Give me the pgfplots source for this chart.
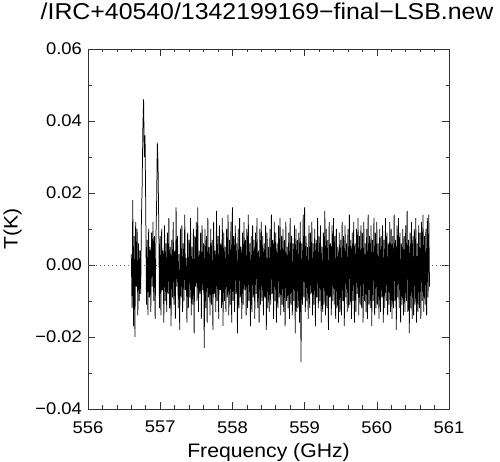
\documentclass[border=0pt]{standalone}
\usepackage{pgfplots}
\pgfplotsset{compat=1.18}
\usepackage{fontspec}
\setmainfont[FakeStretch=1.085]{Liberation Sans}
\begin{document}
\begin{tikzpicture}[x=1bp,y=1bp]
\useasboundingbox (0,0) rectangle (500,462);
\begin{axis}[
 at={(88bp,53bp)}, anchor=south west,
 scale only axis, width=361bp, height=360bp,
 xmin=556, xmax=561, ymin=-0.04, ymax=0.06,
 scaled y ticks=false, scaled x ticks=false,
 xtick={556,557,558,559,560,561}, minor x tick num=4,
 xticklabels={556,557,558,559,560,561},
 ytick={-0.04,-0.02,0,0.02,0.04,0.06}, minor y tick num=1,
 yticklabels={−0.04,−0.02,0.00,0.02,0.04,0.06},
 tick align=inside, major tick length=7bp, minor tick length=3.5bp,
 axis line style={line width=0.8bp, black!80},
 every tick/.style={black!80, line width=0.6bp},
 xticklabel style={font=\fontsize{17}{19}\selectfont, anchor=north, inner sep=0pt, yshift=-12bp},
 yticklabel style={font=\fontsize{17}{19}\selectfont, anchor=east, inner sep=0pt, xshift=-6bp},
 xlabel={Frequency (GHz)}, ylabel={T(K)},
 every axis x label/.style={at={(axis description cs:0.5,-0.135)}, anchor=base, inner sep=0pt, font=\fontsize{19.6}{22}\selectfont},
 every axis y label/.style={at={(axis description cs:-0.195,0.5)}, anchor=base, rotate=90, inner sep=0pt, font=\fontsize{19.6}{22}\selectfont},
 title={/IRC+40540/1342199169−final−LSB.new},
 every axis title/.style={at={(axis description cs:0.496,1.0825)}, anchor=base, inner sep=0pt, font=\fontsize{23}{26}\selectfont},
]
\addplot[black!60, line width=0.5bp, dash pattern=on 1.2bp off 2.8bp] coordinates {(556,0)(561,0)};
\addplot[black, line width=0.75bp] coordinates {
(556.60,0.003)(556.61,-0.012)(556.62,0.018)(556.63,-0.017)(556.64,0.008)(556.65,-0.020)(556.66,0.012)(556.67,-0.006)(556.68,0.010)(556.69,-0.014)
(556.70,0.006)(556.71,-0.010)(556.72,0.004)(556.73,-0.008)(556.74,0.013)(556.75,0.022)(556.76,0.038)(556.77,0.046)(556.78,0.030)(556.79,0.036)
(556.80,0.015)(556.81,-0.011)(556.82,0.007)(556.83,-0.014)(556.84,0.010)(556.85,-0.009)(556.86,0.005)(556.87,-0.013)(556.88,0.009)(556.89,-0.006)
(556.90,0.012)(556.91,-0.010)(556.92,0.008)(556.93,-0.015)(556.94,0.006)(556.95,0.017)(556.96,0.034)(556.97,0.028)(556.98,0.011)(556.99,-0.012)
(557.00,0.008)(557.01,-0.014)(557.02,0.010)(557.03,-0.007)(557.04,0.004)(557.05,-0.016)(557.06,0.011)(557.07,-0.010)(557.08,0.006)(557.09,-0.013)
(557.10,0.009)(557.11,-0.008)(557.12,0.013)(557.13,-0.012)(557.14,0.005)(557.15,-0.017)(557.16,0.007)(557.17,-0.009)(557.18,0.012)(557.19,-0.011)
(557.20,0.004)(557.21,-0.015)(557.22,0.016)(557.23,-0.006)(557.24,0.008)(557.25,-0.012)(557.26,0.003)(557.27,-0.018)(557.28,0.010)(557.29,-0.009)
(557.30,0.011)(557.31,-0.013)(557.32,0.006)(557.33,-0.010)(557.34,0.014)(557.35,-0.007)(557.36,0.002)(557.37,-0.016)(557.38,0.009)(557.39,-0.012)
(557.40,0.007)(557.41,-0.009)(557.42,0.013)(557.43,-0.014)(557.44,0.005)(557.45,-0.011)(557.46,0.010)(557.47,-0.019)(557.48,0.008)(557.49,-0.006)
(557.50,0.012)(557.51,-0.010)(557.52,0.016)(557.53,-0.013)(557.54,0.004)(557.55,-0.008)(557.56,0.009)(557.57,-0.015)(557.58,0.011)(557.59,-0.007)
(557.60,0.006)(557.61,-0.023)(557.62,0.010)(557.63,-0.012)(557.64,0.008)(557.65,-0.016)(557.66,0.013)(557.67,-0.009)(557.68,0.005)(557.69,-0.014)
(557.70,0.010)(557.71,-0.011)(557.72,0.007)(557.73,-0.018)(557.74,0.012)(557.75,-0.008)(557.76,0.004)(557.77,-0.013)(557.78,0.015)(557.79,-0.010)
(557.80,0.008)(557.81,-0.015)(557.82,0.011)(557.83,-0.007)(557.84,0.006)(557.85,-0.012)(557.86,0.013)(557.87,-0.017)(557.88,0.009)(557.89,-0.010)
(557.90,0.005)(557.91,-0.013)(557.92,0.010)(557.93,-0.009)(557.94,0.014)(557.95,-0.014)(557.96,0.007)(557.97,-0.011)(557.98,0.012)(557.99,-0.016)
(558.00,0.016)(558.01,-0.010)(558.02,0.008)(558.03,-0.013)(558.04,0.011)(558.05,-0.008)(558.06,0.006)(558.07,-0.019)(558.08,0.010)(558.09,-0.012)
(558.10,0.013)(558.11,-0.009)(558.12,0.005)(558.13,-0.015)(558.14,0.009)(558.15,-0.011)(558.16,0.012)(558.17,-0.007)(558.18,0.007)(558.19,-0.014)
(558.20,0.010)(558.21,-0.012)(558.22,0.014)(558.23,-0.010)(558.24,0.006)(558.25,-0.017)(558.26,0.008)(558.27,-0.013)(558.28,0.011)(558.29,-0.009)
(558.30,0.007)(558.31,-0.015)(558.32,0.009)(558.33,-0.008)(558.34,0.013)(558.35,-0.012)(558.36,0.004)(558.37,-0.016)(558.38,0.010)(558.39,-0.011)
(558.40,0.012)(558.41,-0.010)(558.42,0.008)(558.43,-0.014)(558.44,0.006)(558.45,-0.009)(558.46,0.011)(558.47,-0.018)(558.48,0.009)(558.49,-0.012)
(558.50,0.005)(558.51,-0.013)(558.52,0.010)(558.53,-0.011)(558.54,0.014)(558.55,-0.008)(558.56,0.007)(558.57,-0.015)(558.58,0.012)(558.59,-0.010)
(558.60,0.009)(558.61,-0.016)(558.62,0.006)(558.63,-0.012)(558.64,0.011)(558.65,-0.009)(558.66,0.013)(558.67,-0.014)(558.68,0.008)(558.69,-0.011)
(558.70,0.010)(558.71,-0.013)(558.72,0.007)(558.73,-0.017)(558.74,0.012)(558.75,-0.010)(558.76,0.005)(558.77,-0.012)(558.78,0.009)(558.79,-0.015)
(558.80,0.013)(558.81,-0.011)(558.82,0.008)(558.83,-0.014)(558.84,0.006)(558.85,-0.010)(558.86,0.011)(558.87,-0.019)(558.88,0.010)(558.89,-0.013)
(558.90,0.007)(558.91,-0.012)(558.92,0.009)(558.93,-0.016)(558.94,0.012)(558.95,-0.027)(558.96,0.006)(558.97,-0.011)(558.98,0.014)(558.99,-0.009)
(559.00,0.016)(559.01,-0.013)(559.02,0.008)(559.03,-0.010)(559.04,0.005)(559.05,-0.015)(559.06,0.011)(559.07,-0.012)(559.08,0.009)(559.09,-0.008)
(559.10,0.012)(559.11,-0.014)(559.12,0.006)(559.13,-0.011)(559.14,0.010)(559.15,-0.017)(559.16,0.007)(559.17,-0.009)(559.18,0.013)(559.19,-0.012)
(559.20,0.008)(559.21,-0.010)(559.22,0.011)(559.23,-0.016)(559.24,0.005)(559.25,-0.013)(559.26,0.009)(559.27,-0.011)(559.28,0.015)(559.29,-0.014)
(559.30,0.010)(559.31,-0.012)(559.32,0.007)(559.33,-0.018)(559.34,0.012)(559.35,-0.009)(559.36,0.006)(559.37,-0.014)(559.38,0.011)(559.39,-0.010)
(559.40,0.013)(559.41,-0.011)(559.42,0.008)(559.43,-0.015)(559.44,0.010)(559.45,-0.012)(559.46,0.005)(559.47,-0.016)(559.48,0.009)(559.49,-0.013)
(559.50,0.007)(559.51,-0.014)(559.52,0.012)(559.53,-0.010)(559.54,0.008)(559.55,-0.017)(559.56,0.011)(559.57,-0.009)(559.58,0.006)(559.59,-0.013)
(559.60,0.010)(559.61,-0.012)(559.62,0.014)(559.63,-0.011)(559.64,0.007)(559.65,-0.015)(559.66,0.009)(559.67,-0.010)(559.68,0.012)(559.69,-0.016)
(559.70,0.006)(559.71,-0.013)(559.72,0.010)(559.73,-0.008)(559.74,0.013)(559.75,-0.014)(559.76,0.008)(559.77,-0.011)(559.78,0.011)(559.79,-0.012)
(559.80,0.009)(559.81,-0.016)(559.82,0.012)(559.83,-0.010)(559.84,0.006)(559.85,-0.013)(559.86,0.010)(559.87,-0.015)(559.88,0.014)(559.89,-0.011)
(559.90,0.008)(559.91,-0.012)(559.92,0.011)(559.93,-0.017)(559.94,0.007)(559.95,-0.010)(559.96,0.013)(559.97,-0.014)(559.98,0.009)(559.99,-0.012)
(560.00,0.012)(560.01,-0.011)(560.02,0.006)(560.03,-0.015)(560.04,0.010)(560.05,-0.013)(560.06,0.008)(560.07,-0.009)(560.08,0.011)(560.09,-0.016)
(560.10,0.007)(560.11,-0.012)(560.12,0.013)(560.13,-0.010)(560.14,0.009)(560.15,-0.014)(560.16,0.006)(560.17,-0.011)(560.18,0.012)(560.19,-0.013)
(560.20,0.010)(560.21,-0.015)(560.22,0.008)(560.23,-0.012)(560.24,0.014)(560.25,-0.010)(560.26,0.007)(560.27,-0.018)(560.28,0.011)(560.29,-0.009)
(560.30,0.013)(560.31,-0.012)(560.32,0.009)(560.33,-0.016)(560.34,0.006)(560.35,-0.011)(560.36,0.010)(560.37,-0.014)(560.38,0.008)(560.39,-0.013)
(560.40,0.011)(560.41,-0.010)(560.42,0.015)(560.43,-0.013)(560.44,0.007)(560.45,-0.019)(560.46,0.009)(560.47,-0.012)(560.48,0.012)(560.49,-0.015)
(560.50,0.008)(560.51,-0.014)(560.52,0.010)(560.53,-0.011)(560.54,0.013)(560.55,-0.016)(560.56,0.006)(560.57,-0.013)(560.58,0.011)(560.59,-0.012)
(560.60,0.009)(560.61,-0.015)(560.62,0.012)(560.63,-0.010)(560.64,0.014)(560.65,-0.013)(560.66,0.008)(560.67,-0.011)(560.68,0.010)(560.69,-0.014)
(560.70,0.013)(560.71,-0.009)(560.72,0.014)(560.73,-0.006)
};
\end{axis}
\end{tikzpicture}
\end{document}
